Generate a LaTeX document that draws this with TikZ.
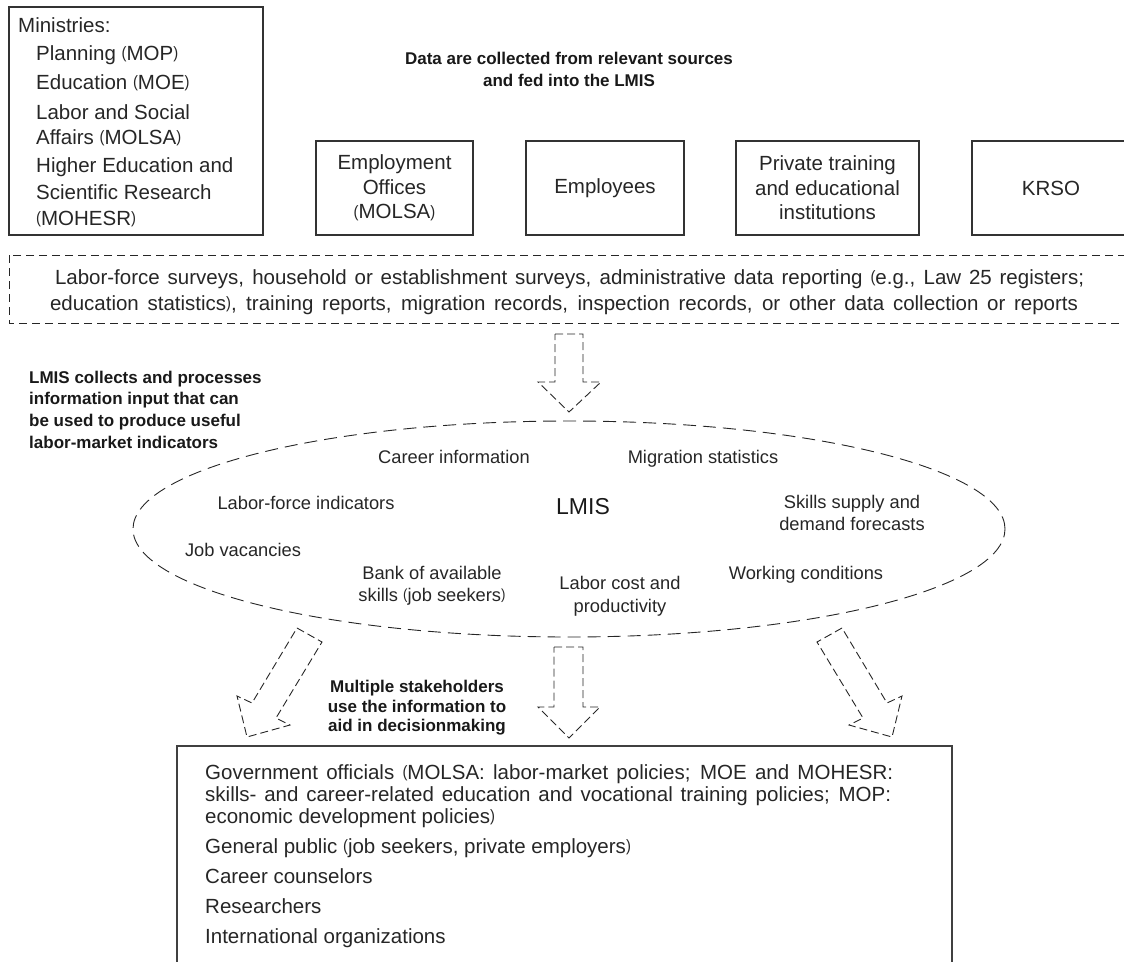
\documentclass[tikz,border=0pt]{standalone}
\usepackage{fontspec}
\setmainfont{Liberation Sans}
\usepackage{graphicx}
\usepackage{tikz}
\newcommand{\fwopen}{\raisebox{0.12ex}{\scalebox{0.72}[0.8]{(}}}
\newcommand{\fwclose}{\raisebox{0.12ex}{\scalebox{0.72}[0.8]{)}}}

\begin{document}
\begin{tikzpicture}[x=1pt, y=-1pt,
		srcbox/.style={draw=black!80, line width=1.1pt, align=center, text=black!85, inner sep=0pt, font=\fontsize{20.5}{24.5}\selectfont},
		bigtext/.style={text=black!85, inner sep=0pt, font=\fontsize{20.5}{24.5}\selectfont},
		bodytext/.style={text=black!85, inner sep=0pt, font=\fontsize{18.3}{22}\selectfont},
		headnote/.style={text=black!90, inner sep=0pt, font=\fontsize{17}{21}\selectfont\bfseries},
		dasharrow/.style={draw=black!85, line width=0.9pt, dash pattern=on 8pt off 4pt}]
			%%%%% START %%%%%
			\useasboundingbox (0,0) rectangle (1124,961);
			\clip (0,0) rectangle (1124,961);
			
			% ministries
			\draw[draw=black!80, line width=1.1pt] (9,7) rectangle (263,235);
			\node[bigtext, anchor=base west] (minhead) at (18,32) {Ministries:};
			\node[bigtext, anchor=base west] (minplan) at (36,60) {Planning \fwopen MOP\fwclose};
			\node[bigtext, anchor=base west] (minedu) at (36,89) {Education \fwopen MOE\fwclose};
			\node[bigtext, anchor=base west] (minlab) at (36,119) {Labor and Social};
			\node[bigtext, anchor=base west] (minlabb) at (36,144) {Affairs \fwopen MOLSA\fwclose};
			\node[bigtext, anchor=base west] (minhigh) at (36,172) {Higher Education and};
			\node[bigtext, anchor=base west] (minhighb) at (36,199) {Scientific Research};
			\node[bigtext, anchor=base west] (minhighc) at (36,225) {\fwopen MOHESR\fwclose};
			
			% sources
			\node[headnote, anchor=base] (collect) at (569,64) {Data are collected from relevant sources};
			\node[headnote, anchor=base] (collectb) at (569,86) {and fed into the LMIS};
			
			\node[srcbox, minimum width=157pt, minimum height=94pt] (empoff) at (394.5,188) {Employment\\Offices\\\fwopen MOLSA\fwclose};
			\node[srcbox, minimum width=158pt, minimum height=94pt] (employees) at (605,188) {Employees};
			\node[srcbox, minimum width=183pt, minimum height=94pt] (private) at (827.5,188) {Private training\\and educational\\institutions};
			\node[srcbox, minimum width=158pt, minimum height=94pt] (krso) at (1051,188) {KRSO};
			
			% data sources
			\draw[draw=black!85, line width=0.9pt, dash pattern=on 8pt off 5pt] (9,255) rectangle (1130,323);
			\node[bigtext, anchor=base] (surveys) at (569.5,284) {\makebox[1029pt][s]{Labor-force surveys, household or establishment surveys, administrative data reporting \fwopen e.g., Law 25 registers;}};
			\node[bigtext, anchor=base] (surveysb) at (564,310) {\makebox[1028pt][s]{education statistics\fwclose, training reports, migration records, inspection records, or other data collection or reports}};
			
			\draw[dasharrow] (555,334) -- (583,334) -- (583,382) -- (601,382) -- (569,412) -- (538,382) -- (555,382) -- cycle;
			
			\node[headnote, anchor=base west] (process) at (29,383) {LMIS collects and processes};
			\node[headnote, anchor=base west] (processb) at (29,404) {information input that can};
			\node[headnote, anchor=base west] (processc) at (29,426) {be used to produce useful};
			\node[headnote, anchor=base west] (processd) at (29,448) {labor-market indicators};
			
			% lmis
			\draw[draw=black!85, line width=0.9pt, dash pattern=on 13pt off 7pt] (569,529) ellipse [x radius=436pt, y radius=108pt];
			\node[text=black!90, inner sep=0pt, font=\fontsize{23}{27}\selectfont, anchor=base] (lmis) at (583,514) {LMIS};
			\node[bodytext, anchor=base] (career) at (454,463) {Career information};
			\node[bodytext, anchor=base] (migration) at (703,463) {Migration statistics};
			\node[bodytext, anchor=base] (laborforce) at (306,509) {Labor-force indicators};
			\node[bodytext, anchor=base] (skills) at (852,508) {Skills supply and};
			\node[bodytext, anchor=base] (skillsb) at (852,530) {demand forecasts};
			\node[bodytext, anchor=base] (vacancies) at (243,556) {Job vacancies};
			\node[bodytext, anchor=base] (bank) at (432,579) {Bank of available};
			\node[bodytext, anchor=base] (bankb) at (432,601) {skills \fwopen job seekers\fwclose};
			\node[bodytext, anchor=base] (cost) at (620,589) {Labor cost and};
			\node[bodytext, anchor=base] (costb) at (620,612) {productivity};
			\node[bodytext, anchor=base] (working) at (806,579) {Working conditions};
			
			% users
			\draw[dasharrow] (297,628) -- (322,642) -- (276,718) -- (290,725) -- (247,737) -- (237,696) -- (252,703) -- cycle;
			\draw[dasharrow] (554,647) -- (583,647) -- (583,707) -- (600,707) -- (569,738) -- (538,707) -- (554,707) -- cycle;
			\draw[dasharrow] (842,628) -- (817,642) -- (863,718) -- (849,725) -- (892,737) -- (902,696) -- (887,703) -- cycle;
			
			\node[headnote, anchor=base] (stake) at (417,692) {Multiple stakeholders};
			\node[headnote, anchor=base] (stakeb) at (417,712) {use the information to};
			\node[headnote, anchor=base] (stakec) at (417,731) {aid in decisionmaking};
			
			\draw[draw=black!75, line width=1.6pt] (177,1000) -- (177,746) -- (952,746) -- (952,1000);
			\node[bigtext, anchor=base west] (gov) at (205,779) {\makebox[688pt][s]{Government officials \fwopen MOLSA: labor-market policies; MOE and MOHESR:}};
			\node[bigtext, anchor=base west] (govb) at (205,801) {\makebox[686pt][s]{skills- and career-related education and vocational training policies; MOP:}};
			\node[bigtext, anchor=base west] (govc) at (205,823) {economic development policies\fwclose};
			\node[bigtext, anchor=base west] (public) at (205,853) {General public \fwopen job seekers, private employers\fwclose};
			\node[bigtext, anchor=base west] (counsel) at (205,883) {Career counselors};
			\node[bigtext, anchor=base west] (research) at (205,913) {Researchers};
			\node[bigtext, anchor=base west] (intl) at (205,943) {International organizations};
			%%%%% END %%%%%
		\end{tikzpicture}
\end{document}
